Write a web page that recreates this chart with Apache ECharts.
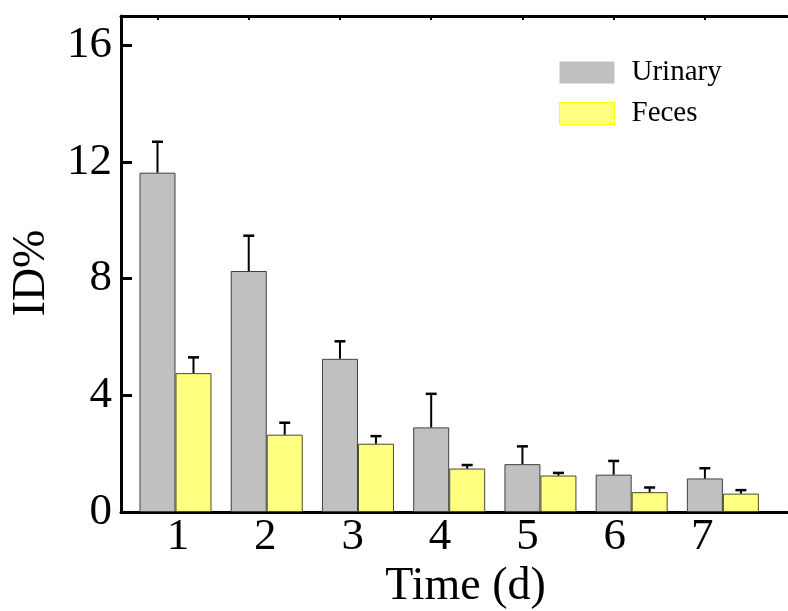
<!DOCTYPE html>
<html>
<head>
<meta charset="utf-8">
<script src="https://cdn.jsdelivr.net/npm/echarts@6/dist/echarts.min.js"></script>
<style>html,body{margin:0;padding:0;background:#fff}#c{width:788px;height:611px}</style>
</head>
<body>
<div id="c"></div>
<script>
const days = ['1', '2', '3', '4', '5', '6', '7'];
const dayPos = [1, 2, 3, 4, 5, 6, 7];
const urinary = [11.63, 8.26, 5.25, 2.90, 1.64, 1.28, 1.15];
const urinaryErr = [1.06, 1.21, 0.60, 1.15, 0.61, 0.47, 0.35];
const feces = [4.76, 2.65, 2.34, 1.49, 1.25, 0.68, 0.63];
const fecesErr = [0.54, 0.41, 0.26, 0.12, 0.09, 0.16, 0.12];
const yTicks = [0, 4, 8, 12, 16];

const FONT = "'Liberation Serif', 'Times New Roman', serif";
const BAR_W = 36;

const chart = echarts.init(document.getElementById('c'), null, {renderer: 'canvas'});

function errRender(offset) {
  return function (params, api) {
    const x = api.value(0);
    const p0 = api.coord([x, api.value(1)]);
    const p1 = api.coord([x, api.value(2)]);
    const cx = p0[0] + offset;
    return {
      type: 'group',
      children: [
        {type: 'line', shape: {x1: cx, y1: p0[1], x2: cx, y2: p1[1]}, style: {stroke: '#000', lineWidth: 2}},
        {type: 'line', shape: {x1: cx - 5.5, y1: p1[1], x2: cx + 5.5, y2: p1[1]}, style: {stroke: '#000', lineWidth: 2.5}}
      ]
    };
  };
}

const option = {
  animation: false,
  backgroundColor: '#fff',
  grid: {left: 121, right: 1, top: 16, bottom: 99, outerBoundsMode: 'none', containLabel: false},
  legend: {
    orient: 'vertical', left: 559, top: 58, padding: 0,
    itemWidth: 55, itemHeight: 22, itemGap: 12, icon: 'rect',
    textStyle: {fontFamily: FONT, fontSize: 29, color: '#000', padding: [0, 0, 0, 12]},
    data: [
      {name: 'Urinary', itemStyle: {borderWidth: 0, color: '#c0c0c0'}},
      {name: 'Feces', itemStyle: {borderWidth: 1, borderColor: '#ffff00', color: '#ffff80'}}
    ]
  },
  xAxis: [
    {
      type: 'value', min: 0.6, max: 7.9, position: 'bottom',
      splitLine: {show: false},
      axisLine: {show: true, lineStyle: {color: '#000', width: 3}},
      axisTick: {show: true, inside: true, length: 5, customValues: dayPos, lineStyle: {color: '#000', width: 2}},
      axisLabel: {show: false},
      name: 'Time (d)', nameLocation: 'middle', nameGap: 52,
      nameTextStyle: {fontFamily: FONT, fontSize: 46, color: '#000', padding: [0, 0, 0, 23]}
    },
    {
      type: 'value', min: 0.349, max: 7.971, position: 'bottom',
      splitLine: {show: false},
      axisLine: {show: false}, axisTick: {show: false},
      axisLabel: {
        show: true, customValues: dayPos, margin: 3,
        fontFamily: FONT, fontSize: 45, color: '#000',
        formatter: function (v) { return days[Math.round(v) - 1]; }
      }
    },
    {
      type: 'value', min: 0.6, max: 7.9, position: 'top',
      splitLine: {show: false},
      axisLine: {show: true, lineStyle: {color: '#000', width: 3}},
      axisTick: {show: true, inside: true, length: 4, customValues: dayPos, lineStyle: {color: '#000', width: 2}},
      axisLabel: {show: false}
    }
  ],
  yAxis: {
    type: 'value', min: 0, max: 17,
    splitLine: {show: false},
    axisLine: {show: true, lineStyle: {color: '#000', width: 3}},
    axisTick: {show: true, inside: true, length: 11, customValues: yTicks, lineStyle: {color: '#000', width: 3}},
    axisLabel: {customValues: yTicks, margin: 9, fontFamily: FONT, fontSize: 45, color: '#000'},
    name: 'ID%', nameLocation: 'middle', nameGap: 66,
    nameTextStyle: {fontFamily: FONT, fontSize: 46, color: '#000', padding: [0, 18, 0, 0]}
  },
  series: [
    {name: 'pad', type: 'bar', xAxisIndex: 0, barWidth: BAR_W, barGap: '0%', data: [], silent: true},
    {
      name: 'Urinary', type: 'bar', xAxisIndex: 0, barWidth: BAR_W, barGap: '0%',
      itemStyle: {color: '#c0c0c0', borderColor: '#404040', borderWidth: 1},
      data: urinary.map((v, i) => [dayPos[i], v])
    },
    {
      name: 'Feces', type: 'bar', xAxisIndex: 0, barWidth: BAR_W, barGap: '0%',
      itemStyle: {color: '#ffff80', borderColor: '#4a4a30', borderWidth: 1},
      data: feces.map((v, i) => [dayPos[i], v])
    },
    {
      name: 'UrinaryErr', type: 'custom', xAxisIndex: 0, z: 5,
      renderItem: errRender(0),
      data: urinary.map((v, i) => [dayPos[i], v, v + urinaryErr[i]])
    },
    {
      name: 'FecesErr', type: 'custom', xAxisIndex: 0, z: 5,
      renderItem: errRender(BAR_W),
      data: feces.map((v, i) => [dayPos[i], v, v + fecesErr[i]])
    }
  ]
};
chart.setOption(option);
</script>
</body>
</html>
